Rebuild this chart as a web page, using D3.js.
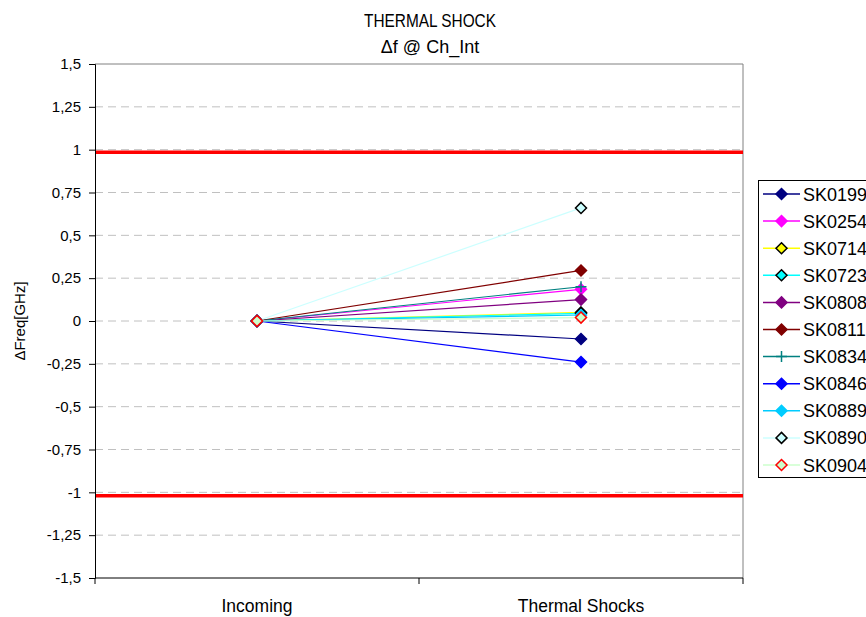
<!DOCTYPE html>
<html><head><meta charset="utf-8">
<script src="https://cdn.jsdelivr.net/npm/d3@7"></script>
<style>body{margin:0;background:#fff}svg{display:block;font-family:"Liberation Sans",Arial,sans-serif}</style>
</head><body>
<svg id="c" width="866" height="617"></svg>
<script>
const categories = ["Incoming", "Thermal Shocks"];
const seriesNames = ["SK0199","SK0254","SK0714","SK0723","SK0808","SK0811","SK0834","SK0846","SK0889","SK0890","SK0904"];
const incomingValues = [0,0,0,0,0,0,0,0,0,0,0];
const shockValues = [-0.105, 0.185, 0.05, 0.045, 0.125, 0.295, 0.2, -0.24, 0.035, 0.66, 0.02];
const lineColors = ["#000080","#FF00FF","#FFFF00","#00FFFF","#800080","#800000","#008080","#0000FF","#00CCFF","#CCFFFF","#CCFFCC"];
const markerFills = ["#000080","#FF00FF","#FFFF00","#00FFFF","#800080","#800000","none","#0000FF","#00CCFF","#CCFFFF","#CCFFCC"];
const markerStrokes = ["#000080","#FF00FF","#000000","#000000","#800080","#800000","#008080","#0000FF","#00CCFF","#000000","#FF0000"];
const markerShapes = ["diamond","diamond","diamond","diamond","diamond","diamond","plus","diamond","diamond","diamond","diamond"];
const yTicks = [1.5,1.25,1,0.75,0.5,0.25,0,-0.25,-0.5,-0.75,-1,-1.25,-1.5];
const limitValues = [0.985, -1.02];
const titleLines = ["THERMAL SHOCK", "Δf @ Ch_Int"];
const yLabel = "ΔFreq[GHz]";

const svg = d3.select("#c");
const L = 95, R = 743, T = 64, B = 578;
const x = d3.scaleBand().domain(categories).range([L, R]);
const y = d3.scaleLinear().domain([-1.5, 1.5]).range([B, T]);
const fmt = v => String(v).replace(".", ",");

// gridlines
svg.append("g").selectAll("line").data(yTicks.filter(t => t !== 1.5 && t !== -1.5)).join("line")
  .attr("x1", L).attr("x2", R).attr("y1", d => y(d)).attr("y2", d => y(d))
  .attr("stroke", "#c0c0c0").attr("stroke-width", 1).attr("stroke-dasharray", "8,5");

// plot border (top/right)
svg.append("path").attr("d", `M${L},${T}H${R}V${B}`).attr("fill", "none").attr("stroke", "#808080").attr("stroke-width", 1);

// limit lines
svg.append("g").selectAll("line").data(limitValues).join("line")
  .attr("x1", L).attr("x2", R).attr("y1", d => y(d)).attr("y2", d => y(d))
  .attr("stroke", "#FF0000").attr("stroke-width", 3.5);

// axes
const yAxis = d3.axisLeft(y).tickValues(yTicks).tickFormat(fmt).tickSize(6).tickPadding(8);
const gy = svg.append("g").attr("transform", `translate(${L},0)`).call(yAxis);
gy.select(".domain").attr("stroke", "#000");
gy.selectAll(".tick line").attr("stroke", "#000");
gy.selectAll("text").attr("font-size", 15).attr("fill", "#000").attr("font-family", "Liberation Sans, Arial, sans-serif");

const gx = svg.append("g").attr("transform", `translate(0,${B})`);
gx.append("line").attr("x1", L).attr("x2", R).attr("stroke", "#000");
gx.selectAll("line.t").data([L, L + x.bandwidth(), R]).join("line").attr("class", "t")
  .attr("x1", d => d).attr("x2", d => d).attr("y1", 0).attr("y2", 6).attr("stroke", "#000");
gx.selectAll("text").data(categories).join("text")
  .attr("x", d => x(d) + x.bandwidth() / 2).attr("y", 34).attr("text-anchor", "middle")
  .attr("font-size", 17.5).text(d => d);

// series
const series = seriesNames.map((n, i) => ({ name: n, i, values: [incomingValues[i], shockValues[i]] }));
const line = d3.line().x((d, j) => x(categories[j]) + x.bandwidth() / 2).y(d => y(d));
const diamond = s => `M0,${-s}L${s},0L0,${s}L${-s},0Z`;

function drawMarker(g, i, cx, cy, s) {
  if (markerShapes[i] === "plus") {
    g.append("path").attr("d", `M${cx - s},${cy}H${cx + s}M${cx},${cy - s}V${cy + s}`)
      .attr("stroke", markerStrokes[i]).attr("stroke-width", 1.5).attr("fill", "none");
  } else {
    g.append("path").attr("d", diamond(s)).attr("transform", `translate(${cx},${cy})`)
      .attr("fill", markerFills[i]).attr("stroke", markerStrokes[i]).attr("stroke-width", 1.5);
  }
}

const gs = svg.append("g");
series.forEach(s => {
  const g = gs.append("g");
  g.append("path").attr("d", line(s.values)).attr("fill", "none").attr("stroke", lineColors[s.i]).attr("stroke-width", 1.2);
  s.values.forEach((v, j) => drawMarker(g, s.i, x(categories[j]) + x.bandwidth() / 2, y(v), 5.5));
});

// title
svg.append("g").selectAll("text").data(titleLines).join("text")
  .attr("x", 430).attr("y", (d, i) => 27 + i * 26).attr("text-anchor", "middle")
  .attr("font-size", 18)
  .attr("textLength", (d, i) => i === 0 ? 132 : null)
  .attr("lengthAdjust", "spacingAndGlyphs")
  .text(d => d);

// y label
svg.append("text").attr("transform", "translate(25,321) rotate(-90)").attr("text-anchor", "middle")
  .attr("font-size", 15).text(yLabel);

// legend
const lg = svg.append("g");
lg.append("rect").attr("x", 758.5).attr("y", 180.5).attr("width", 130).attr("height", 297)
  .attr("fill", "#fff").attr("stroke", "#000").attr("stroke-width", 1);
series.forEach((s, k) => {
  const cy = 194 + k * 27.1;
  lg.append("line").attr("x1", 763).attr("x2", 800).attr("y1", cy).attr("y2", cy)
    .attr("stroke", lineColors[s.i]).attr("stroke-width", 1.5);
  drawMarker(lg, s.i, 781.5, cy, 5.5);
  lg.append("text").attr("x", 803).attr("y", cy + 6.5).attr("font-size", 18).text(s.name);
});
</script>
</body></html>
